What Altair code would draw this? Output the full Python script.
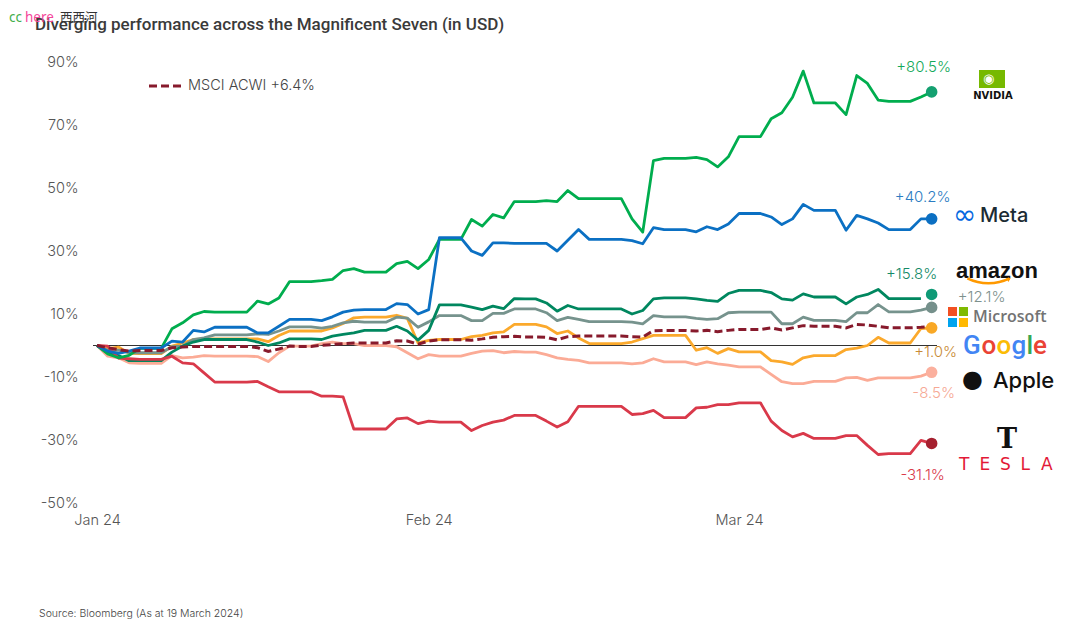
import altair as alt
import pandas as pd

FONT = "Inter"

dates = pd.date_range("2024-01-01", "2024-03-19", freq="D").strftime("%Y-%m-%d").tolist()

nvidia = [0, -2.7, -3.9, -3.1, -0.9, -0.9, -0.9, 5.3, 7.2, 9.7, 10.8, 10.6, 10.6, 10.6, 10.6,
          14.1, 13.2, 15.1, 20.3, 20.3, 20.3, 20.6, 21.0, 23.8, 24.4, 23.3, 23.3, 23.3, 26.0,
          26.7, 24.4, 27.3, 33.7, 33.7, 33.7, 40.0, 37.9, 41.6, 40.5, 45.7, 45.7, 45.7, 46.0,
          45.7, 49.2, 46.6, 46.6, 46.6, 46.6, 46.6, 40.2, 36.0, 58.7, 59.4, 59.4, 59.4, 59.7,
          59.0, 56.7, 59.9, 66.3, 66.3, 66.3, 72.0, 73.9, 78.8, 87.1, 77.0, 77.0, 77.0, 73.3,
          85.7, 83.2, 77.9, 77.5, 77.5, 77.5, 78.9, 80.5]
meta = [0, -1.8, -2.5, -1.8, -0.8, -0.8, -0.8, 1.4, 1.1, 4.8, 4.3, 5.8, 5.8, 5.8, 5.8,
        4.0, 4.0, 6.1, 8.3, 8.3, 8.3, 7.9, 9.1, 10.6, 11.2, 11.4, 11.4, 11.4, 13.3,
        13.0, 10.0, 11.4, 34.2, 34.2, 34.2, 30.0, 28.6, 32.6, 32.6, 32.4, 32.4, 32.4, 32.4,
        30.0, 33.4, 36.8, 33.7, 33.7, 33.7, 33.7, 33.3, 32.3, 37.4, 36.8, 36.8, 36.8, 36.1,
        37.7, 36.8, 38.6, 41.9, 41.9, 41.9, 40.8, 38.4, 40.2, 44.8, 42.9, 42.9, 42.9, 36.6,
        41.3, 40.2, 38.9, 36.8, 36.8, 36.8, 40.2, 40.2]
amazon = [0, -2.3, -3.2, -4.8, -4.8, -4.8, -4.8, -2.1, -0.2, 1.1, 1.9, 1.9, 1.9, 1.9, 1.9,
          1.1, 0.0, 0.8, 2.1, 2.1, 2.1, 1.9, 3.0, 3.5, 4.0, 4.8, 4.8, 4.8, 6.1,
          4.6, 1.7, 4.8, 12.9, 12.9, 12.9, 12.2, 11.4, 12.5, 11.7, 14.9, 14.8, 14.8, 13.5,
          10.9, 12.7, 11.6, 11.6, 11.6, 11.6, 11.6, 10.0, 11.1, 14.8, 15.1, 15.1, 15.1, 14.8,
          14.3, 14.0, 16.5, 17.5, 17.5, 17.5, 16.8, 14.8, 14.4, 16.4, 15.4, 15.4, 15.4, 13.2,
          15.4, 16.2, 17.8, 14.9, 14.9, 14.9, 14.9, None]
microsoft = [0, -1.5, -1.5, -2.3, -2.3, -2.3, -2.3, -0.4, -0.2, 1.9, 2.4, 3.4, 3.4, 3.4, 3.4,
             3.7, 3.5, 4.6, 5.9, 5.9, 5.9, 5.5, 6.1, 7.2, 7.7, 7.4, 7.4, 7.4, 9.0,
             8.7, 5.8, 7.5, 9.5, 9.5, 9.5, 7.9, 7.9, 10.2, 10.2, 11.6, 11.6, 11.6, 10.4,
             7.9, 8.9, 8.3, 7.6, 7.6, 7.6, 7.6, 7.4, 6.9, 9.5, 9.1, 9.1, 9.1, 8.6,
             8.3, 8.5, 10.4, 10.6, 10.6, 10.6, 10.6, 6.9, 6.9, 9.0, 8.0, 8.0, 8.0, 7.6,
             10.4, 10.4, 13.0, 10.7, 10.7, 10.7, 11.2, 12.1]
google = [0, -1.0, -0.5, -2.5, -2.6, -2.6, -2.6, -0.2, 0.8, 1.9, 2.1, 2.1, 2.1, 2.1, 2.1,
          2.1, 1.2, 3.2, 4.6, 4.6, 4.6, 4.6, 5.6, 7.0, 8.8, 9.0, 9.0, 9.0, 9.6,
          8.6, 0.8, 1.6, 1.9, 1.9, 1.9, 2.8, 3.2, 4.0, 4.3, 6.7, 6.7, 6.7, 5.9,
          3.8, 4.6, 2.4, 0.6, 0.6, 0.6, 0.6, 1.1, 2.2, 3.2, 3.2, 3.2, 3.2, -1.5,
          -0.7, -2.5, -1.0, -2.0, -2.0, -2.0, -4.8, -5.2, -6.0, -3.9, -3.2, -3.2, -3.2, -1.3,
          -0.8, 0.0, 2.6, 0.8, 0.8, 0.8, 5.4, 5.6]
apple = [0, -3.4, -3.9, -5.5, -5.7, -5.7, -5.7, -3.2, -3.9, -3.7, -3.2, -3.4, -3.4, -3.4, -3.4,
         -3.5, -5.1, -2.3, -0.2, -0.2, -0.2, 0.6, 1.1, 0.6, 0.6, 0.0, 0.0, 0.0, -0.4,
         -2.3, -4.2, -2.9, -3.4, -3.4, -3.4, -2.5, -1.8, -1.6, -2.3, -1.9, -2.1, -2.1, -2.9,
         -3.9, -4.4, -4.7, -5.5, -5.5, -5.5, -5.5, -5.8, -5.5, -4.2, -5.2, -5.2, -5.2, -6.1,
         -5.2, -5.8, -6.2, -6.8, -6.8, -6.8, -9.2, -11.5, -12.1, -12.1, -11.4, -11.4, -11.4, -10.3,
         -10.1, -11.1, -10.3, -10.3, -10.3, -10.3, -9.7, -8.5]
tesla = [0, -0.2, -4.0, -4.2, -4.4, -4.4, -4.4, -3.4, -5.5, -5.8, -8.7, -11.6, -11.6, -11.6, -11.6,
         -11.4, -13.1, -14.7, -14.7, -14.7, -14.7, -16.1, -16.1, -16.3, -26.5, -26.5, -26.5, -26.5, -23.3,
         -23.0, -24.8, -24.0, -24.3, -24.3, -24.3, -27.0, -25.4, -24.3, -23.7, -22.2, -22.2, -22.2, -24.0,
         -25.9, -24.2, -19.3, -19.3, -19.3, -19.3, -19.3, -21.9, -21.6, -20.6, -22.9, -22.9, -22.9, -19.8,
         -19.6, -18.8, -18.8, -18.2, -18.2, -18.2, -24.0, -27.0, -29.0, -27.9, -29.5, -29.5, -29.5, -28.6,
         -28.6, -31.7, -34.6, -34.3, -34.3, -34.3, -30.1, -31.1]
msci = [0, -0.7, -1.3, -1.8, -1.6, -1.6, -1.6, -0.7, -0.5, -0.3, -0.3, -0.3, -0.3, -0.3, -0.3,
        -0.7, -1.9, -1.1, -0.2, -0.3, -0.3, 0.1, 0.3, 0.6, 0.8, 0.8, 0.8, 0.8, 1.5,
        1.4, 0.4, 1.4, 1.8, 1.8, 1.8, 1.7, 2.1, 2.6, 2.8, 2.9, 2.7, 2.7, 2.6,
        1.8, 2.8, 3.0, 3.0, 3.0, 3.0, 3.0, 2.8, 2.7, 4.7, 4.8, 4.8, 4.8, 4.6,
        4.8, 4.4, 4.8, 5.1, 5.1, 5.1, 5.6, 4.9, 5.6, 6.3, 6.1, 6.1, 6.1, 5.6,
        6.7, 6.5, 6.1, 5.6, 5.6, 5.6, 5.8, 6.1]

# Order in which the lines are drawn (last on top)
draw_order = ["Apple", "Google", "Microsoft", "Amazon", "Tesla", "NVIDIA", "Meta"]
series = {"NVIDIA": nvidia, "Meta": meta, "Amazon": amazon, "Microsoft": microsoft,
          "Google": google, "Apple": apple, "Tesla": tesla}
line_colors = {"NVIDIA": "#00ad4e", "Meta": "#0b70c3", "Amazon": "#00875f",
               "Microsoft": "#76938d", "Google": "#fba92c", "Apple": "#fbab96",
               "Tesla": "#d9394a"}

# End-of-period markers and labels
end_names = ["NVIDIA", "Meta", "Amazon", "Microsoft", "Google", "Apple", "Tesla"]
end_values = [80.5, 40.2, 16.2, 12.1, 5.6, -8.5, -31.1]
end_labels = ["+80.5%", "+40.2%", "+15.8%", "+12.1%", "+1.0%", "-8.5%", "-31.1%"]
dot_colors = ["#14a070", "#0b6fc2", "#0f9a76", "#75908b", "#f9a825", "#fbb09e", "#a5202f"]
label_colors = ["#14a95a", "#2b7cc2", "#138a67", "#7d918d", "#c88a35", "#f6a894", "#d9394a"]
label_offsets = [(-8, -25), (-9, -22), (-20, -20), (50, -10), (4, 24), (2, 21), (-9, 32)]

msci_label = "MSCI ACWI +6.4%"
title_text = "Diverging performance across the Magnificent Seven (in USD)"
source_text = "Source: Bloomberg (As at 19 March 2024)"

# ---------------------------------------------------------------- data tables
rows = []
for n in draw_order:
    for d, v in zip(dates, series[n]):
        if v is not None:
            rows.append({"date": d, "name": n, "value": v})
lines_df = pd.DataFrame(rows)
msci_df = pd.DataFrame({"date": dates, "value": msci})
ends_df = pd.DataFrame({"date": [dates[-1]] * len(end_names), "name": end_names,
                        "value": end_values, "label": end_labels})
zero_df = pd.DataFrame({"value": [0]})

OX, OY = 93, 62  # plot origin in page pixels (for decorations only)

x_enc = alt.X("date:T", title=None,
              scale=alt.Scale(type="utc", domain=[
                  alt.DateTime(year=2023, month=12, date=31, hours=15, utc=True),
                  alt.DateTime(year=2024, month=3, date=19, hours=12, utc=True)]),
              axis=alt.Axis(values=[alt.DateTime(year=2024, month=m, date=1, utc=True) for m in (1, 2, 3)],
                            format="%b %y", labelPadding=10, labelFlush=False))
y_enc = alt.Y("value:Q", title=None,
              scale=alt.Scale(domain=[-50, 90], nice=False, zero=False),
              axis=alt.Axis(values=[-50, -30, -10, 10, 30, 50, 70, 90],
                            labelExpr="datum.value + '%'", labelPadding=15))

layers = []
layers.append(alt.Chart(zero_df).mark_rule(color="#333333", strokeWidth=1).encode(y=y_enc))

for n in draw_order:
    layers.append(
        alt.Chart(lines_df).transform_filter(alt.datum.name == n)
        .mark_line(color=line_colors[n], strokeWidth=2.8, strokeJoin="round")
        .encode(x=x_enc, y=y_enc)
    )

layers.append(
    alt.Chart(msci_df).mark_line(color="#871a2c", strokeWidth=3, strokeDash=[8, 4])
    .encode(x=x_enc, y=y_enc)
)

layers.append(
    alt.Chart(ends_df).mark_circle(size=135, opacity=1)
    .encode(x=x_enc, y=y_enc,
            color=alt.Color("name:N", scale=alt.Scale(domain=end_names, range=dot_colors), legend=None))
)

for n, col, (dx, dy) in zip(end_names, label_colors, label_offsets):
    layers.append(
        alt.Chart(ends_df).transform_filter(alt.datum.name == n)
        .mark_text(dx=dx, dy=dy, color=col, fontSize=15, font=FONT, fontWeight=300)
        .encode(x=x_enc, y=y_enc, text="label:N")
    )

# ---------------------------------------------------------------- decorations
def txt(text, x, y, **kw):
    base = dict(font=FONT, align="left", baseline="middle")
    base.update(kw)
    return alt.Chart(zero_df).mark_text(text=text, **base).encode(
        x=alt.value(x - OX), y=alt.value(y - OY))

def sq(x, y, size, color):
    return alt.Chart(zero_df).mark_square(size=size, color=color, opacity=1).encode(
        x=alt.value(x - OX), y=alt.value(y - OY))

# title
layers.append(txt(title_text, 35, 30, fontSize=17, fontWeight=500, color="#3a3a3a",
                  baseline="alphabetic", font="Roboto"))

# legend for the benchmark
layers.append(alt.Chart(zero_df).mark_rule(color="#871a2c", strokeWidth=3, strokeDash=[8, 4]).encode(
    x=alt.value(149 - OX), x2=alt.value(182 - OX), y=alt.value(86 - OY)))
layers.append(txt(msci_label, 188, 86, fontSize=14.5, color="#444444", fontWeight=300))

# watermark
layers.append(txt("cc", 9, 22, fontSize=13.5, color="#3fae49", baseline="alphabetic", font="Noto Sans"))
layers.append(txt("here", 25, 22, fontSize=13.5, color="#f4479b", baseline="alphabetic", font="Noto Sans"))
layers.append(txt("西西河", 60, 22, fontSize=12.5, color="#333333", baseline="alphabetic", font="Noto Sans CJK SC"))

# source
layers.append(txt(source_text, 39, 613.5, fontSize=10.5, color="#444444", fontWeight=300))

# logos (approximated)
layers.append(alt.Chart(zero_df).mark_rect(color="#76b900").encode(
    x=alt.value(979 - OX), x2=alt.value(1005 - OX), y=alt.value(70 - OY), y2=alt.value(88 - OY)))
layers.append(txt("◉", 983, 79, fontSize=13, color="#ffffff", font="DejaVu Sans"))
layers.append(txt("NVIDIA", 993, 96, fontSize=10, fontWeight="bold", color="#111111", align="center", font="DejaVu Sans"))
layers.append(txt("∞", 953, 216, fontSize=28, color="#0668e1", font="DejaVu Sans"))
layers.append(txt("Meta", 980, 216, fontSize=20, color="#1c2b33", fontWeight=500))
layers.append(txt("amazon", 956, 271, fontSize=22, fontWeight="bold", color="#111111", font="Liberation Sans"))
layers.append(alt.Chart(zero_df).mark_arc(color="#ff9900", radius=49, radius2=46.5,
                                          theta=2.685, theta2=3.6).encode(
    x=alt.value(988.5 - OX), y=alt.value(235.5 - OY)))
layers.append(alt.Chart(zero_df).mark_point(shape="triangle-right", size=22, filled=True,
                                            color="#ff9900", opacity=1, angle=330).encode(
    x=alt.value(1009 - OX), y=alt.value(279 - OY)))
for cx, cy, c in [(952.5, 311.5, "#f25022"), (963.5, 311.5, "#7fba00"),
                  (952.5, 322.5, "#00a4ef"), (963.5, 322.5, "#ffb900")]:
    layers.append(sq(cx, cy, 81, c))
layers.append(txt("Microsoft", 973, 317, fontSize=16, fontWeight=600, color="#737373", font="Open Sans"))
gx = 963
for ch, c, w in [("G", "#4285f4", 18.5), ("o", "#ea4335", 15), ("o", "#fbbc05", 15),
                 ("g", "#4285f4", 15), ("l", "#34a853", 6.5), ("e", "#ea4335", 14)]:
    layers.append(txt(ch, gx, 346, fontSize=26, color=c, font="Roboto", fontWeight=500))
    gx += w
layers.append(txt("●", 962, 380, fontSize=24, color="#111111", font="DejaVu Sans"))
layers.append(txt("Apple", 993, 381, fontSize=22, color="#111111", fontWeight=500))
layers.append(txt("T", 1007, 448, fontSize=27, color="#111111", align="center", baseline="alphabetic",
                  font="DejaVu Serif", fontWeight="bold"))
tx = 959
for ch in "TESLA":
    layers.append(txt(ch, tx, 465, fontSize=17, color="#e31937", font="DejaVu Sans"))
    tx += 20.5

chart = alt.layer(*layers).properties(
    width=844, height=441,
    padding={"left": 85, "top": 54, "right": 131, "bottom": 118},
    autosize=alt.AutoSizeParams(type="none"),
).configure_view(stroke=None).configure_axis(
    domain=False, ticks=False, grid=False, labelFont=FONT, labelFontSize=14.5,
    labelColor="#555555", labelFontWeight=300
)

chart.save("out.html", embed_options={"renderer": "svg", "actions": False})
